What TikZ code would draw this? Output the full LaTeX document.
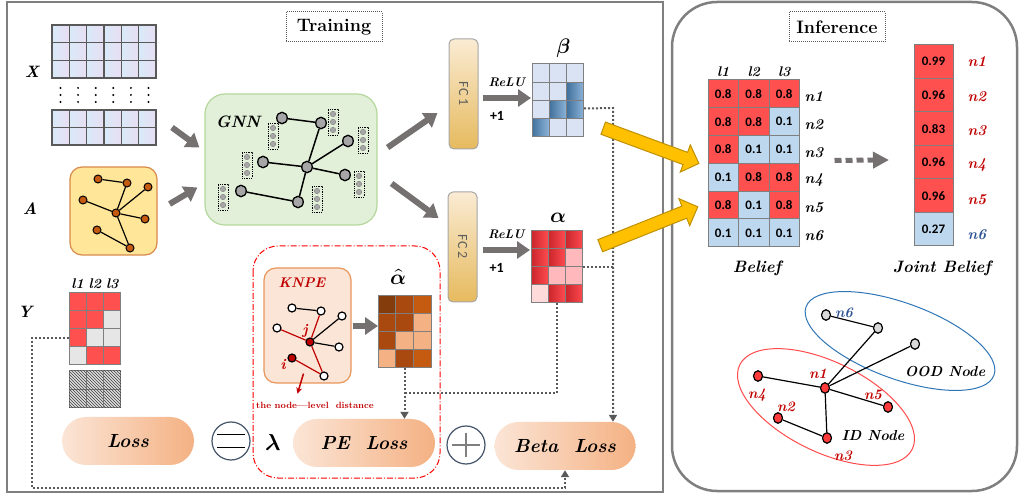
\documentclass[tikz,border=0pt]{standalone}
\usepackage{fontspec}
\usepackage{unicode-math}
\setmathfont{Latin Modern Math}
\newfontfamily\numfont{Carlito}
\usetikzlibrary{shapes.geometric,shapes.arrows,arrows.meta,positioning,calc,patterns}

\definecolor{panelgray}{HTML}{7F7F7F}
\definecolor{cellgray}{HTML}{595959}
\definecolor{dotgray}{HTML}{595959}
\definecolor{arrowgray}{HTML}{767171}
\definecolor{xA}{HTML}{D8EAF8}
\definecolor{xB}{HTML}{E9DEF3}
\definecolor{ayel}{HTML}{FFE699}
\definecolor{aborder}{HTML}{D9894A}
\definecolor{anodefill}{HTML}{C55A11}
\definecolor{gnnfill}{HTML}{E2F0D9}
\definecolor{gnnborder}{HTML}{B4D79B}
\definecolor{gnodefill}{HTML}{A6A6A6}
\definecolor{fcA}{HTML}{FAEBD3}
\definecolor{fcB}{HTML}{E6BA5E}
\definecolor{fcborder}{HTML}{A6A6A6}
\definecolor{fctextc}{HTML}{5E5E5E}
\definecolor{betaL}{HTML}{DAE3F3}
\definecolor{betaD1}{HTML}{41719C}
\definecolor{betaD2}{HTML}{8EB4D9}
\definecolor{alR1}{HTML}{C9262C}
\definecolor{alR2}{HTML}{FF4B4F}
\definecolor{alP}{HTML}{FFB9BD}
\definecolor{alLP}{HTML}{FFDADB}
\definecolor{yred}{HTML}{FF5050}
\definecolor{ygray}{HTML}{E7E6E6}
\definecolor{ahD}{HTML}{843C0C}
\definecolor{ahM}{HTML}{A9490F}
\definecolor{ahO}{HTML}{C55A11}
\definecolor{ahL}{HTML}{F4B183}
\definecolor{lossA}{HTML}{FBE5D6}
\definecolor{lossB}{HTML}{F4B183}
\definecolor{circc}{HTML}{44546A}
\definecolor{pered}{HTML}{FF0000}
\definecolor{knfill}{HTML}{FBE5D6}
\definecolor{knborder}{HTML}{E8955A}
\definecolor{knred}{HTML}{C00000}
\definecolor{belred}{HTML}{FF5050}
\definecolor{belblue}{HTML}{BDD7EE}
\definecolor{nred}{HTML}{C00000}
\definecolor{nblue}{HTML}{2F5597}
\definecolor{oodblue}{HTML}{2E75B6}
\definecolor{idred}{HTML}{FF4B4B}
\definecolor{graynode}{HTML}{D9D9D9}
\definecolor{rednode}{HTML}{FF3B3B}
\definecolor{yfill}{HTML}{FFC000}
\definecolor{yborder}{HTML}{BF9000}

\begin{document}
\begin{tikzpicture}[x=1pt, y=-1pt,
    panel/.style={draw=panelgray, line width=2.5pt},
    ttl/.style={draw=cellgray, densely dotted, line width=1pt, minimum width=96pt, minimum height=30pt, inner sep=0pt, font=\fontsize{18}{20}\selectfont\bfseries},
    mframe/.style={inner sep=0pt, outer sep=0pt},
    lbl/.style={font=\fontsize{16.5}{19}\selectfont\bfseries\itshape},
    grk/.style={font=\fontsize{21}{25}\selectfont},
    xcell/.style={draw=cellgray, line width=1.2pt, left color=xA, right color=xB},
    cell/.style={draw=panelgray, line width=1pt},
    bL/.style={fill=betaL}, bD/.style={left color=betaD1, right color=betaD2},
    aR/.style={left color=alR1, right color=alR2}, aP/.style={fill=alP}, aQ/.style={fill=alLP},
    yR/.style={fill=yred}, yG/.style={fill=ygray},
    hD/.style={fill=ahD}, hM/.style={fill=ahM}, hO/.style={fill=ahO}, hL/.style={fill=ahL},
    hatch/.style={draw=panelgray, line width=1pt, fill=gray!25, postaction={pattern=north west lines, pattern color=black!75}},
    anode/.style={circle, draw, line width=1pt, fill=anodefill, minimum size=8pt, inner sep=0pt},
    gnode/.style={ellipse, draw, line width=1.3pt, fill=gnodefill, minimum width=10.5pt, minimum height=11.5pt, inner sep=0pt},
    fvec/.style={draw, densely dotted, line width=0.8pt, minimum width=10pt, minimum height=26pt, inner sep=0pt},
    fdot/.style={circle, draw=gray, fill=gnodefill, minimum size=5.5pt, inner sep=0pt},
    lnk/.style={line width=1.2pt},
    garrow/.style={draw=arrowgray, line width=6pt, -{Triangle[length=13pt,width=17pt]}},
    fcbox/.style={rounded corners=5pt, draw=fcborder, line width=1pt, top color=fcA, bottom color=fcB, minimum width=29pt, minimum height=110pt, inner sep=0pt},
    fctext/.style={rotate=-90, text=fctextc, font=\numfont\fontsize{14}{16}\selectfont},
    relu/.style={font=\fontsize{12.5}{14}\selectfont\bfseries\itshape},
    plusone/.style={font=\numfont\fontsize{14}{16}\selectfont\bfseries},
    yarrow/.style={single arrow, draw=yborder, fill=yfill, line width=1pt, inner xsep=0pt, inner ysep=6pt, single arrow head extend=8pt},
    dotconn/.style={draw=dotgray, line width=2pt, dash pattern=on 2pt off 2pt},
    dottip/.style={-{Triangle[length=7pt,width=8pt]}},
    lossbox/.style={rounded corners=24pt, minimum width=141pt, minimum height=48pt, left color=lossA, right color=lossB, font=\fontsize{19}{22}\selectfont\bfseries\itshape},
    opc/.style={circle, draw=circc, line width=1.2pt, minimum size=38pt, inner sep=0pt},
    pereg/.style={draw=pered, line width=1pt, dash pattern=on 6pt off 2pt on 1pt off 2pt, rounded corners=25pt},
    knpebox/.style={draw=knborder, fill=knfill, line width=1.2pt, rounded corners=12pt, minimum width=87pt, minimum height=115pt},
    kwhite/.style={circle, draw, line width=1.2pt, fill=white, minimum size=8pt, inner sep=0pt},
    kfill/.style={kwhite, fill=knred},
    klbl/.style={text=knred, font=\fontsize{15}{17}\selectfont\bfseries\itshape},
    bcell/.style={draw=panelgray, line width=1pt, minimum width=30.5pt, minimum height=27.8pt, inner sep=0pt, font=\numfont\fontsize{13}{15}\selectfont\bfseries},
    redc/.style={fill=belred}, bluec/.style={fill=belblue},
    jcell/.style={bcell, minimum width=39pt, minimum height=33.5pt},
    nlbl/.style={font=\fontsize{15}{17}\selectfont\bfseries\itshape},
    hdr/.style={font=\fontsize{14}{16}\selectfont\bfseries\itshape},
    glbl/.style={font=\fontsize{14.5}{17}\selectfont\bfseries\itshape},
    ogray/.style={ellipse, draw, line width=1.2pt, fill=graynode, minimum width=9pt, minimum height=10.5pt, inner sep=0pt},
    ored/.style={ogray, fill=rednode},
    region/.style={ellipse, line width=1pt}
]
\useasboundingbox (0,0) rectangle (1021,494);

% Panels
\draw[panel] (7,2) rectangle (663,492);
\draw[panel, rounded corners=45pt] (672,2) rectangle (1017,491);
\node[ttl] (train) at (334,27) {Training};
\node[ttl] (infer) at (837,27) {Inference};

% Feature matrix X
\node[mframe, minimum width=104pt, minimum height=53pt] (xtop) at (104,51.5) {};
\node[mframe, minimum width=104pt, minimum height=35pt] (xbot) at (104,127.5) {};
\foreach \r in {0,1,2}
  \foreach \c in {0,...,5}
    \draw[xcell] (52+\c*17.33, 25+\r*17.67) rectangle ++(17.33,17.67);
\foreach \r in {0,1}
  \foreach \c in {0,...,5}
    \draw[xcell] (52+\c*17.33, 110+\r*17.5) rectangle ++(17.33,17.5);
\foreach \c in {0,...,5}
  \foreach \d in {88,95,102}
    \fill (60.5+\c*17.6, \d) circle (1.1);
\node[lbl] (xl) at (32,72) {X};

% Adjacency A
\node[draw=aborder, fill=ayel, line width=1.2pt, rounded corners=12pt, minimum width=87pt, minimum height=88pt] (abox) at (113.5,211) {};
\node[lbl] (al) at (30,209) {A};
\foreach \n/\px/\py in {1/98/179, 2/127/183, 3/148/187, 4/83/200, 5/116/213, 6/145/219, 7/97/230, 8/130/248}
  \node[anode] (a\n) at (\px,\py) {};
\foreach \s/\t in {1/2, 2/5, 3/5, 4/5, 5/6, 5/8, 7/8}
  \draw[lnk] (a\s) -- (a\t);

% GNN
\node[draw=gnnborder, fill=gnnfill, line width=1.2pt, rounded corners=20pt, minimum width=172pt, minimum height=131pt] (gnn) at (291,159.5) {};
\node[lbl] (gnnl) at (238,122) {GNN};
\foreach \n/\px/\py in {1/333/122, 2/273/136, 3/363/140, 4/247/165, 5/359/184, 6/223/197, 7/317/199} {
  \node[fvec] (f\n) at (\px,\py) {};
  \foreach \d [count=\m] in {-8,0,8}
    \node[fdot] (f\n d\m) at (\px,\py+\d) {};
}
\foreach \n/\px/\py in {1/282/118, 2/321/123, 3/348/141, 4/263/162, 5/307/167, 6/345/175, 7/241/191, 8/298/202}
  \node[gnode] (g\n) at (\px,\py) {};
\foreach \s/\t in {1/2, 2/5, 3/5, 4/5, 5/6, 5/8, 7/8}
  \draw[line width=1.5pt] (g\s) -- (g\t);

\draw[garrow] ($(xbot.east)+(16,0)$) -- ($(gnn.west)+(-5,-12)$);
\draw[garrow] ($(abox.east)+(12,-7)$) -- ($(gnn.west)+(-7,28)$);

% Heads
\node[fcbox] (fc1) at (463.5,94) {};
\node[fctext] (fc1t) at (fc1) {FC 1};
\node[fcbox] (fc2) at (462.5,247) {};
\node[fctext] (fc2t) at (fc2) {FC 2};
\draw[garrow] ($(gnn.east)+(10,-12)$) -- ($(fc1.west)+(-11,19)$);
\draw[garrow] ($(gnn.east)+(14,24)$) -- ($(fc2.west)+(-9,-29)$);

% beta
\node[mframe, minimum width=52pt, minimum height=73pt] (beta) at (558,100.5) {};
\foreach \cols [count=\r from 0] in {{bL,bL,bL},{bL,bL,bD},{bL,bD,bD},{bD,bL,bL}}
  \foreach \s [count=\c from 0] in \cols
    \draw[cell, \s] (532+\c*17.33, 64+\r*18.25) rectangle ++(17.33,18.25);
\node[grk] (betal) at (563,48) {$\symbfit{\beta}$};
\draw[garrow] ($(fc1.east)+(4,4)$) -- ($(beta.west)+(-1,-2.5)$)
  node[midway, above=5pt, relu] {ReLU} node[pos=0.3, below=7pt, plusone] {+1};

% alpha
\node[mframe, minimum width=52pt, minimum height=72pt] (alpha) at (557,267) {};
\foreach \cols [count=\r from 0] in {{aR,aR,aR},{aR,aR,aP},{aR,aP,aP},{aQ,aR,aR}}
  \foreach \s [count=\c from 0] in \cols
    \draw[cell, \s] (531+\c*17.33, 231+\r*18) rectangle ++(17.33,18);
\node[grk] (alphal) at (558,218) {$\symbfit{\alpha}$};
\draw[garrow] ($(fc2.east)+(5,3)$) -- ($(alpha.west)+(-1,-17)$)
  node[midway, above=5pt, relu] {ReLU} node[pos=0.3, below=7pt, plusone] {+1};

% Labels Y
\node[mframe, minimum width=52pt, minimum height=72pt] (ymat) at (95,329) {};
\foreach \cols [count=\r from 0] in {{yR,yR,yR},{yR,yR,yG},{yR,yG,yG},{yG,yR,yR}}
  \foreach \s [count=\c from 0] in \cols
    \draw[cell, \s] (69+\c*17.33, 293+\r*18) rectangle ++(17.33,18);
\foreach \c in {1,2,3}
  \node[hdr] (yh\c) at (60.3+\c*17.33,284) {l\c};
\foreach \r in {0,1}
  \foreach \c in {0,1,2}
    \draw[hatch] (69+\c*17.33, 371+\r*18.5) rectangle ++(17.33,18.5);
\node[lbl] (yl) at (25,312) {Y};

% KNPE branch
\draw[pereg] (253,246) rectangle (440,478);
\node[knpebox] (knpe) at (307.5,325.5) {};
\node[klbl, font=\fontsize{14}{16}\selectfont\bfseries\itshape] (knpel) at (302,283) {KNPE};
\foreach \n/\px/\py/\s in {1/292/308/kwhite, 2/321/311/kwhite, 3/342/316/kwhite, 4/277/328/kwhite, 5/310/342/kfill, 6/339/347/kwhite, 7/292/358/kfill, 8/324/376/kwhite}
  \node[\s] (k\n) at (\px,\py) {};
\foreach \s/\t/\ec in {1/2/black, 2/5/knred, 3/5/black, 4/5/knred, 5/6/black, 5/8/knred, 7/8/knred}
  \draw[lnk, \ec] (k\s) -- (k\t);
\node[klbl] (jl) at (305,331) {j};
\node[klbl] (il) at (283,365) {i};
\draw[knred, line width=1.5pt, -{Stealth[length=6pt,width=6pt]}] ($(knpe.south)+(-4,-10)$) -- ++(-6,20);
\node[text=knred, font=\fontsize{9}{10}\selectfont\bfseries] (distl) at (315,405) {the node—level\ \ distance};

\node[mframe, minimum width=53pt, minimum height=72pt] (ahat) at (404.5,332) {};
\foreach \cols [count=\r from 0] in {{hD,hM,hO},{hM,hM,hL},{hM,hL,hL},{hL,hM,hO}}
  \foreach \s [count=\c from 0] in \cols
    \draw[cell, \s] (378+\c*17.67, 296+\r*18) rectangle ++(17.67,18);
\node[grk] (ahatl) at (398,277) {$\hat{\symbfit{\alpha}}$};
\draw[garrow] ($(knpe.east)+(1,0.5)$) -- ($(ahat.west)+(0,-6)$);

% Losses
\node[lossbox, minimum width=132pt] (loss) at (128,441) {Loss};
\node[opc] (eqc) at (231,441) {};
\draw[line width=1.6pt] ($(eqc.center)+(-14,-6.5)$) -- ++(28,0);
\draw[line width=1.6pt] ($(eqc.center)+(-14,6.5)$) -- ++(28,0);
\node[grk, font=\fontsize{23}{27}\selectfont] (lam) at (273,443) {$\symbfit{\lambda}$};
\node[lossbox, minimum width=142pt] (peloss) at (364,443) {PE\ \ Loss};
\node[opc] (plusc) at (466,445) {};
\draw[line width=1.2pt, panelgray] ($(plusc.center)+(-14,0)$) -- ++(28,0);
\draw[line width=1.2pt, panelgray] ($(plusc.center)+(0,-12)$) -- ++(0,24);
\node[lossbox] (betaloss) at (565,446) {Beta\ \ Loss};

% Dotted links to the losses
\coordinate (bj) at (613,108);
\draw[dotconn, dottip] ($(beta.east)+(0,8)$) -- (bj) -- (bj |- betaloss.north);
\draw[dotconn] (alpha.east) -- (alpha.east -| bj);
\path (ahat.south) ++(0,25) coordinate (pj);
\draw[dotconn] (alpha.south) |- (pj);
\draw[dotconn, dottip] (ahat.south) -- (ahat.south |- peloss.north);
\coordinate (yj) at (32,488);
\draw[dotconn, dottip] ($(ymat.west)+(0,9)$) -| (yj) -| (betaloss.south);

% Belief
\node[mframe, minimum width=91.5pt, minimum height=166.8pt] (belief) at (753.75,163.4) {};
\foreach \vals [count=\r] in {{redc/0.8,redc/0.8,redc/0.8},{redc/0.8,redc/0.8,bluec/0.1},{redc/0.8,bluec/0.1,bluec/0.1},{bluec/0.1,redc/0.8,redc/0.8},{redc/0.8,bluec/0.1,redc/0.8},{bluec/0.1,bluec/0.1,bluec/0.1}}
  \foreach \s/\v [count=\c] in \vals
    \node[bcell, \s] (b\r\c) at (692.75+\c*30.5, 66.1+\r*27.8) {\v};
\foreach \c in {1,2,3}
  \node[hdr] (bh\c) at (692.75+\c*30.5,72) {l\c};
\foreach \r in {1,...,6}
  \node[nlbl] (bn\r) at (814, 69+\r*27.8) {n\r};
\node[lbl] (beliefl) at (757,268) {Belief};

% Joint belief
\node[mframe, minimum width=39pt, minimum height=201pt] (joint) at (933.5,145.5) {};
\foreach \s/\v/\lc [count=\r] in {redc/0.99/nred, redc/0.96/nred, redc/0.83/nred, redc/0.96/nred, redc/0.96/nred, bluec/0.27/nblue} {
  \node[jcell, \s] (j\r) at (933.5, 28.25+\r*33.5) {\v};
  \node[nlbl, text=\lc] (jn\r) at (977, 27+\r*34.6) {n\r};
}
\node[lbl] (jointl) at (942,268) {Joint Belief};

% Belief arrows
\coordinate (ys1) at ($(beta.south east)+(16,-10)$);
\coordinate (ye1) at ($(belief.west)+(-12,-1)$);
\path (ys1) -- (ye1) node[yarrow, midway, sloped, minimum height=102pt] (ya1) {};
\coordinate (ys2) at ($(alpha.east)+(14,-20)$);
\coordinate (ye2) at ($(belief.west)+(-13,44.5)$);
\path (ys2) -- (ye2) node[yarrow, midway, sloped, minimum height=105pt] (ya2) {};
\draw[draw=arrowgray, line width=5pt, dash pattern=on 7pt off 4pt, -{Triangle[length=16pt,width=16pt]}]
  ($(belief.east)+(35,-3)$) -- ($(joint.west)+(-25,14.5)$);

% ID / OOD graph
\node[region, draw=oodblue, minimum width=200pt, minimum height=76pt, rotate=-20] (oodr) at (900,341) {};
\node[region, draw=idred, minimum width=192pt, minimum height=90pt, rotate=-26] (idr) at (826,407) {};
\node[ogray] (on6) at (826,315) {};
\node[ogray] (oa) at (878,328) {};
\node[ogray] (ob) at (915,344) {};
\node[ored] (in1) at (825,388) {};
\node[ored] (in4) at (758,376) {};
\node[ored] (in5) at (888,407) {};
\node[ored] (in2) at (778,418) {};
\node[ored] (in3) at (827,438) {};
\foreach \s/\t in {on6/oa, oa/in1, ob/in1, in4/in1, in1/in5, in1/in3, in2/in3}
  \draw[lnk] (\s) -- (\t);
\node[glbl, text=nblue] (on6l) at (844,313) {n6};
\node[glbl, text=nred] (in1l) at (818,374) {n1};
\node[glbl, text=nred] (in4l) at (757,395) {n4};
\node[glbl, text=nred] (in5l) at (873,395) {n5};
\node[glbl, text=nred] (in2l) at (786,407) {n2};
\node[glbl, text=nred] (in3l) at (843,456) {n3};
\node[glbl] (oodl) at (945,372) {OOD Node};
\node[glbl] (idl) at (873,436) {ID Node};

\end{tikzpicture}
\end{document}
